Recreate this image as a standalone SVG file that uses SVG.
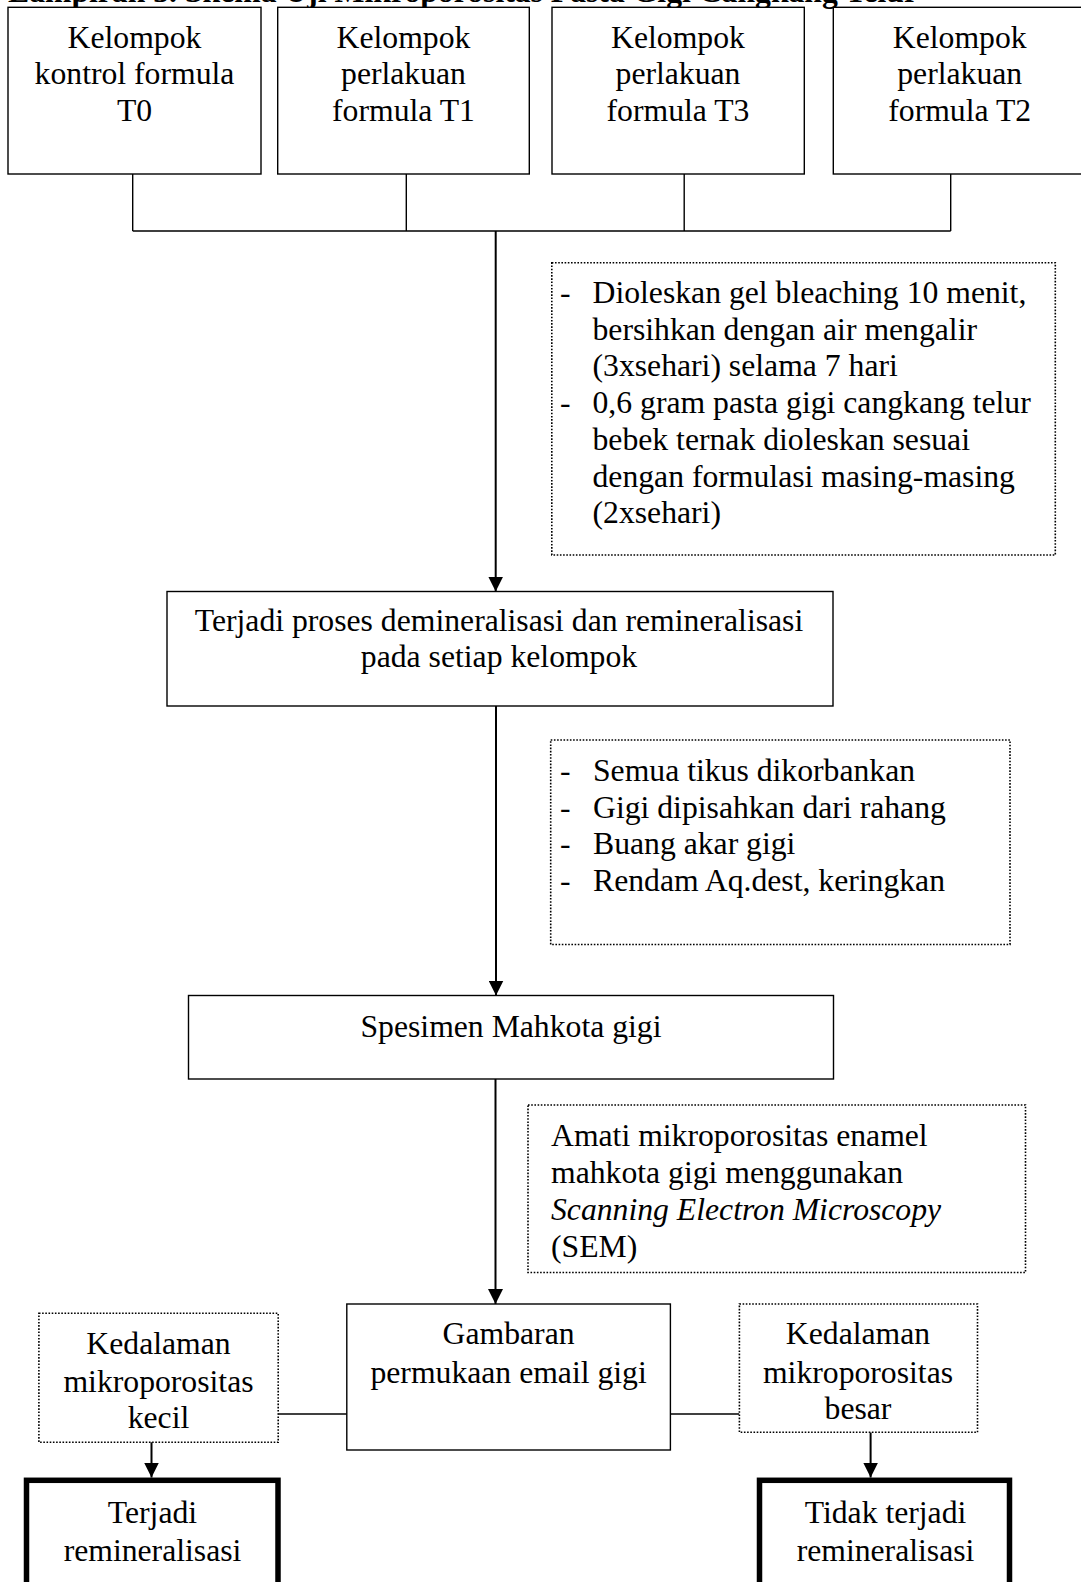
<svg xmlns="http://www.w3.org/2000/svg" width="1081" height="1582" viewBox="0 0 1081 1582">
<style>
text{font-family:"Liberation Serif","Times New Roman",serif;font-size:31.7px;fill:#000}
.c{text-anchor:middle}
.title{font-weight:bold}
.box{fill:#fff;stroke:#000;stroke-width:1.4}
.dot{fill:#fff;stroke:#000;stroke-width:1.6;stroke-dasharray:1.6 1.6}
.thick{fill:#fff;stroke:#000;stroke-width:5.5}
.ln{fill:none;stroke:#000;stroke-width:1.4}
.ar{fill:none;stroke:#000;stroke-width:2;marker-end:url(#ah)}
</style>
<defs>
<marker id="ah" viewBox="0 0 15 15" refX="15" refY="7.5" markerWidth="15" markerHeight="15" markerUnits="userSpaceOnUse" orient="auto">
<path d="M0,0 L15,7.5 L0,15 z" fill="#000"/>
</marker>
</defs>
<rect width="1081" height="1582" fill="#fff"/>
<text class="title" x="8" y="1.5">Lampiran 3. Skema Uji Mikroporositas Pasta Gigi Cangkang Telur</text>

<g id="connectors">
<path class="ln" d="M132.7,174 V231 M406.3,174 V231 M684.2,174 V231 M950.7,174 V231 M132.7,231 H950.7"/>
<line class="ar" x1="495.7" y1="231" x2="495.7" y2="591.5"/>
<line class="ar" x1="496" y1="706" x2="496" y2="995.5"/>
<line class="ar" x1="495.5" y1="1079" x2="495.5" y2="1304"/>
<line class="ln" x1="278.2" y1="1414" x2="346.8" y2="1414"/>
<line class="ln" x1="670.4" y1="1414" x2="739.4" y2="1414"/>
<line class="ar" x1="151.5" y1="1433" x2="151.5" y2="1477.5"/>
<line class="ar" x1="870.6" y1="1432.3" x2="870.6" y2="1477.5"/>
</g>

<g id="t0">
<rect class="box" x="8" y="7.3" width="253" height="166.7"/>
<text class="c" x="134.5" y="47.5">Kelompok</text>
<text class="c" x="134.5" y="84">kontrol formula</text>
<text class="c" x="134.5" y="120.5">T0</text>
</g>
<g id="t1">
<rect class="box" x="277.7" y="7.3" width="251.6" height="166.7"/>
<text class="c" x="403.5" y="47.5">Kelompok</text>
<text class="c" x="403.5" y="84">perlakuan</text>
<text class="c" x="403.5" y="120.5">formula T1</text>
</g>
<g id="t3">
<rect class="box" x="552" y="7.3" width="252.3" height="166.7"/>
<text class="c" x="678" y="47.5">Kelompok</text>
<text class="c" x="678" y="84">perlakuan</text>
<text class="c" x="678" y="120.5">formula T3</text>
</g>
<g id="t2">
<rect class="box" x="833.3" y="7.3" width="253" height="166.7"/>
<text class="c" x="959.7" y="47.5">Kelompok</text>
<text class="c" x="959.7" y="84">perlakuan</text>
<text class="c" x="959.7" y="120.5">formula T2</text>
</g>

<g id="note1">
<rect class="dot" x="551.8" y="262.7" width="503.5" height="292.3"/>
<text x="560" y="303">-</text>
<text x="592.5" y="303">Dioleskan gel bleaching 10 menit,</text>
<text x="592.5" y="339.6">bersihkan dengan air mengalir</text>
<text x="592.5" y="376.3">(3xsehari) selama 7 hari</text>
<text x="560" y="413">-</text>
<text x="592.5" y="413">0,6 gram pasta gigi cangkang telur</text>
<text x="592.5" y="449.6">bebek ternak dioleskan sesuai</text>
<text x="592.5" y="486.5">dengan formulasi masing-masing</text>
<text x="592.5" y="522.8">(2xsehari)</text>
</g>

<g id="proses">
<rect class="box" x="167" y="591.5" width="666" height="114.5"/>
<text class="c" x="499" y="631.3">Terjadi proses demineralisasi dan remineralisasi</text>
<text class="c" x="499" y="667">pada setiap kelompok</text>
</g>

<g id="note2">
<rect class="dot" x="550.7" y="740" width="459.3" height="204.5"/>
<text x="560" y="781">-</text>
<text x="593" y="781">Semua tikus dikorbankan</text>
<text x="560" y="817.5">-</text>
<text x="593" y="817.5">Gigi dipisahkan dari rahang</text>
<text x="560" y="854">-</text>
<text x="593" y="854">Buang akar gigi</text>
<text x="560" y="891">-</text>
<text x="593" y="891">Rendam Aq.dest, keringkan</text>
</g>

<g id="spesimen">
<rect class="box" x="188.5" y="995.5" width="645" height="83.5"/>
<text class="c" x="511" y="1037">Spesimen Mahkota gigi</text>
</g>

<g id="note3">
<rect class="dot" x="528" y="1105" width="497.5" height="167.5"/>
<text x="551" y="1145.5">Amati mikroporositas enamel</text>
<text x="551" y="1182.5">mahkota gigi menggunakan</text>
<text x="551" y="1219.8" font-style="italic">Scanning Electron Microscopy</text>
<text x="551" y="1256.5">(SEM)</text>
</g>

<g id="gambaran">
<rect class="box" x="346.8" y="1304" width="323.6" height="146"/>
<text class="c" x="508.6" y="1343.5">Gambaran</text>
<text class="c" x="508.6" y="1383">permukaan email gigi</text>
</g>

<g id="kecil">
<rect class="dot" x="38.9" y="1313.3" width="239.3" height="129"/>
<text class="c" x="158.5" y="1354">Kedalaman</text>
<text class="c" x="158.5" y="1391.5">mikroporositas</text>
<text class="c" x="158.5" y="1428.3">kecil</text>
</g>

<g id="besar">
<rect class="dot" x="739.4" y="1304" width="238.1" height="128.3"/>
<text class="c" x="858" y="1344">Kedalaman</text>
<text class="c" x="858" y="1382.5">mikroporositas</text>
<text class="c" x="858" y="1419">besar</text>
</g>

<g id="remin">
<rect class="thick" x="26.5" y="1480.3" width="251.5" height="130"/>
<text class="c" x="152.5" y="1522.5">Terjadi</text>
<text class="c" x="152.5" y="1561">remineralisasi</text>
</g>

<g id="tidak">
<rect class="thick" x="759.5" y="1480.3" width="250" height="130"/>
<text class="c" x="885.5" y="1522.5">Tidak terjadi</text>
<text class="c" x="885.5" y="1561">remineralisasi</text>
</g>
</svg>
